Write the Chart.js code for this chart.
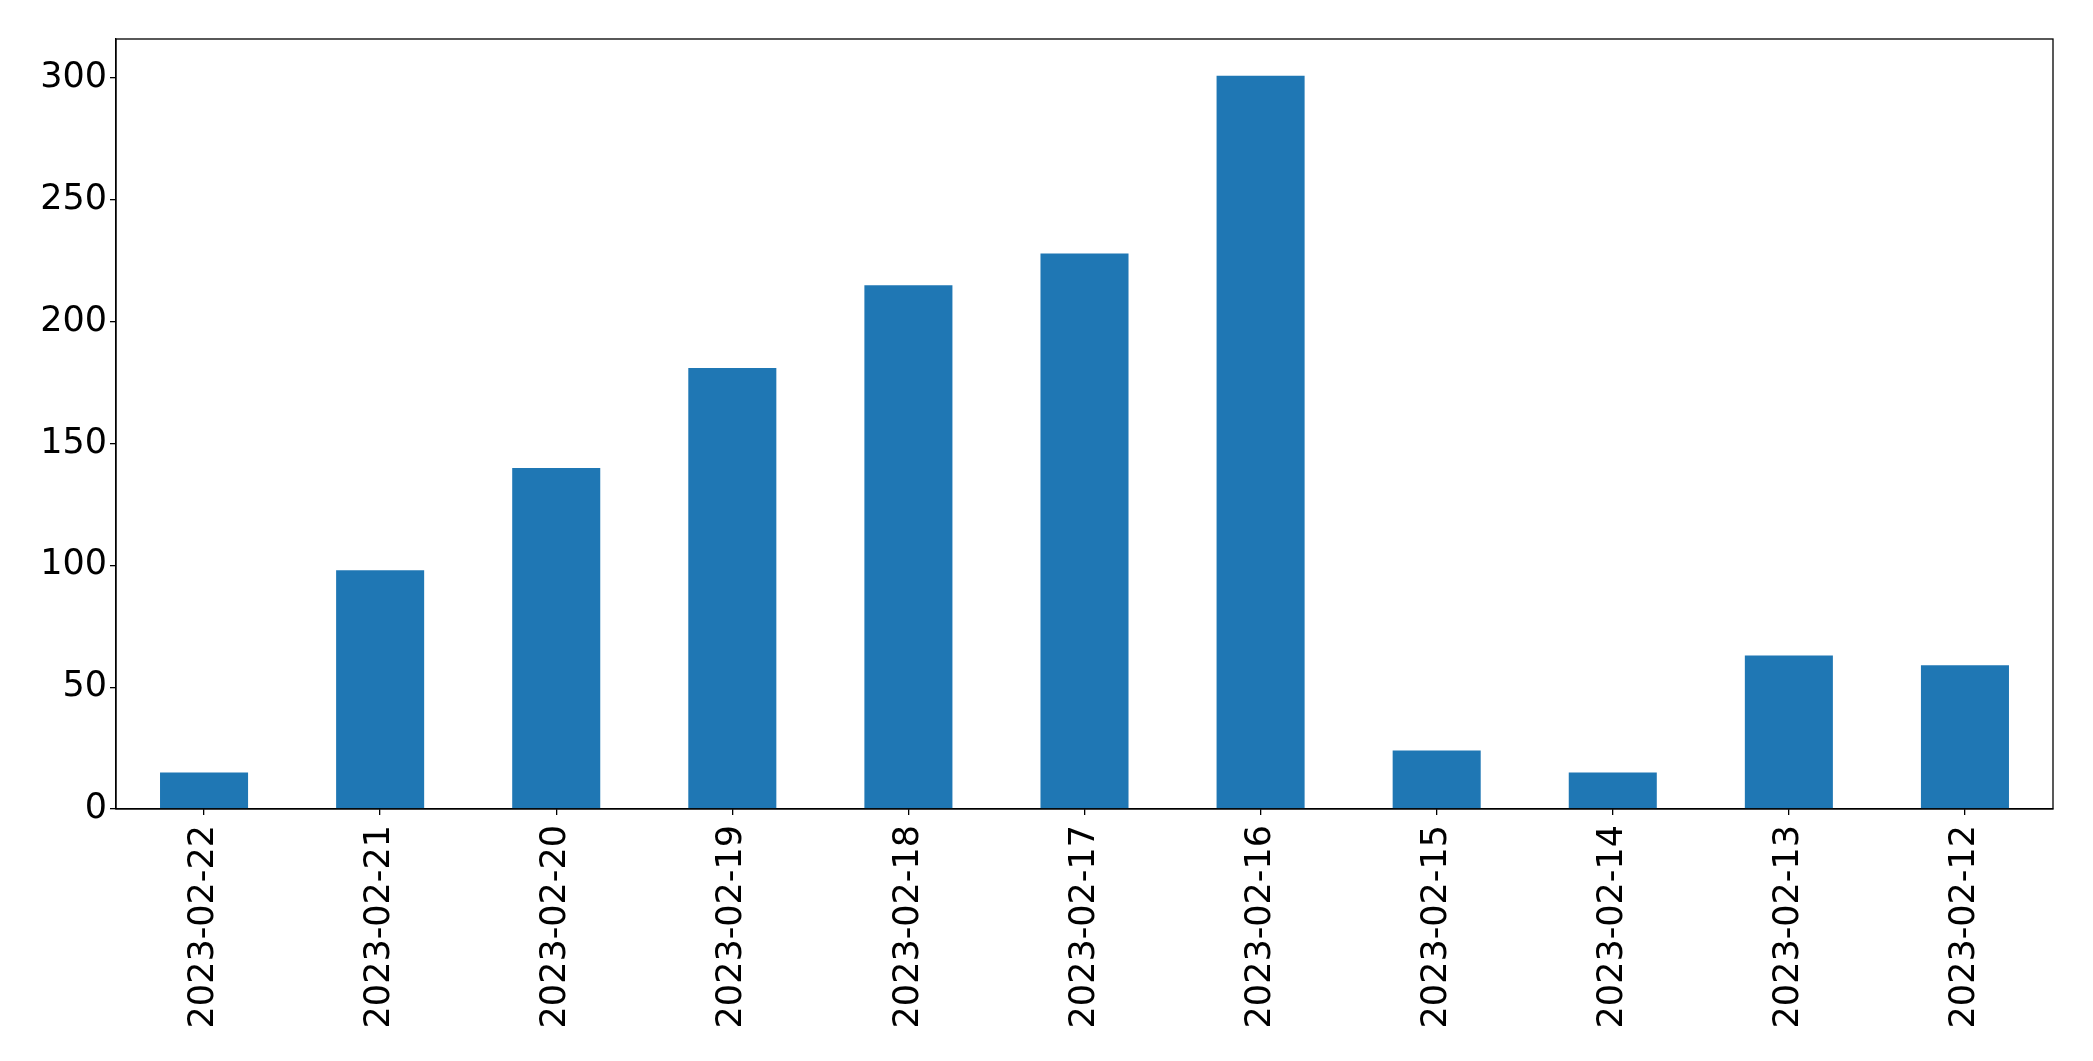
<!DOCTYPE html>
<html>
<head>
<meta charset="utf-8">
<script src="https://cdn.jsdelivr.net/npm/chart.js@4"></script>
<style>
  html, body { margin: 0; padding: 0; background: #fff; }
  #wrap { width: 2093px; height: 1061px; }
</style>
</head>
<body>
<div id="wrap"><canvas id="c" width="2093" height="1061"></canvas></div>
<script>
// du lieu doc tu hinh
const dates = ['2023-02-22', '2023-02-21', '2023-02-20', '2023-02-19', '2023-02-18', '2023-02-17',
               '2023-02-16', '2023-02-15', '2023-02-14', '2023-02-13', '2023-02-12'];
const counts = [15, 98, 140, 181, 215, 228, 301, 24, 15, 63, 59];
const yTicks = [0, 50, 100, 150, 200, 250, 300];

// khung vien quanh vung ve
const frame = {
  id: 'frame',
  afterDraw(chart) {
    const a = chart.chartArea, ctx = chart.ctx;
    ctx.save();
    ctx.strokeStyle = '#000';
    ctx.lineWidth = 1.3;
    ctx.strokeRect(a.left, a.top, a.right - a.left, a.bottom - a.top);
    ctx.restore();
  }
};

Chart.defaults.font.family = 'DejaVu Sans';
Chart.defaults.font.size = 35;
Chart.defaults.color = '#000';

new Chart(document.getElementById('c').getContext('2d'), {
  type: 'bar',
  data: {
    labels: dates,
    datasets: [{
      data: counts,
      backgroundColor: '#1f77b4',
      borderWidth: 0,
      barPercentage: 0.5,
      categoryPercentage: 1.0
    }]
  },
  options: {
    responsive: false,
    animation: false,
    layout: { padding: { top: 39, right: 40, left: 0, bottom: 0 } },
    plugins: { legend: { display: false }, tooltip: { enabled: false } },
    scales: {
      x: {
        grid: { offset: false, drawOnChartArea: false, drawTicks: true, tickLength: 6, color: '#000', lineWidth: 1.3 },
        border: { display: true, color: '#000', width: 1.3 },
        ticks: { maxRotation: 90, minRotation: 90, padding: 10, autoSkip: false },
        afterFit(s) { s.height = 252; }
      },
      y: {
        min: 0,
        max: 316.05,
        grid: { drawOnChartArea: false, drawTicks: true, tickLength: 6, color: '#000', lineWidth: 1.3 },
        border: { display: true, color: '#000', width: 1.3 },
        ticks: { stepSize: 50, includeBounds: false, padding: 3 },
        afterBuildTicks(s) { s.ticks = yTicks.map(v => ({ value: v })); },
        afterFit(s) { s.width = 116; }
      }
    }
  },
  plugins: [frame]
});
</script>
</body>
</html>
